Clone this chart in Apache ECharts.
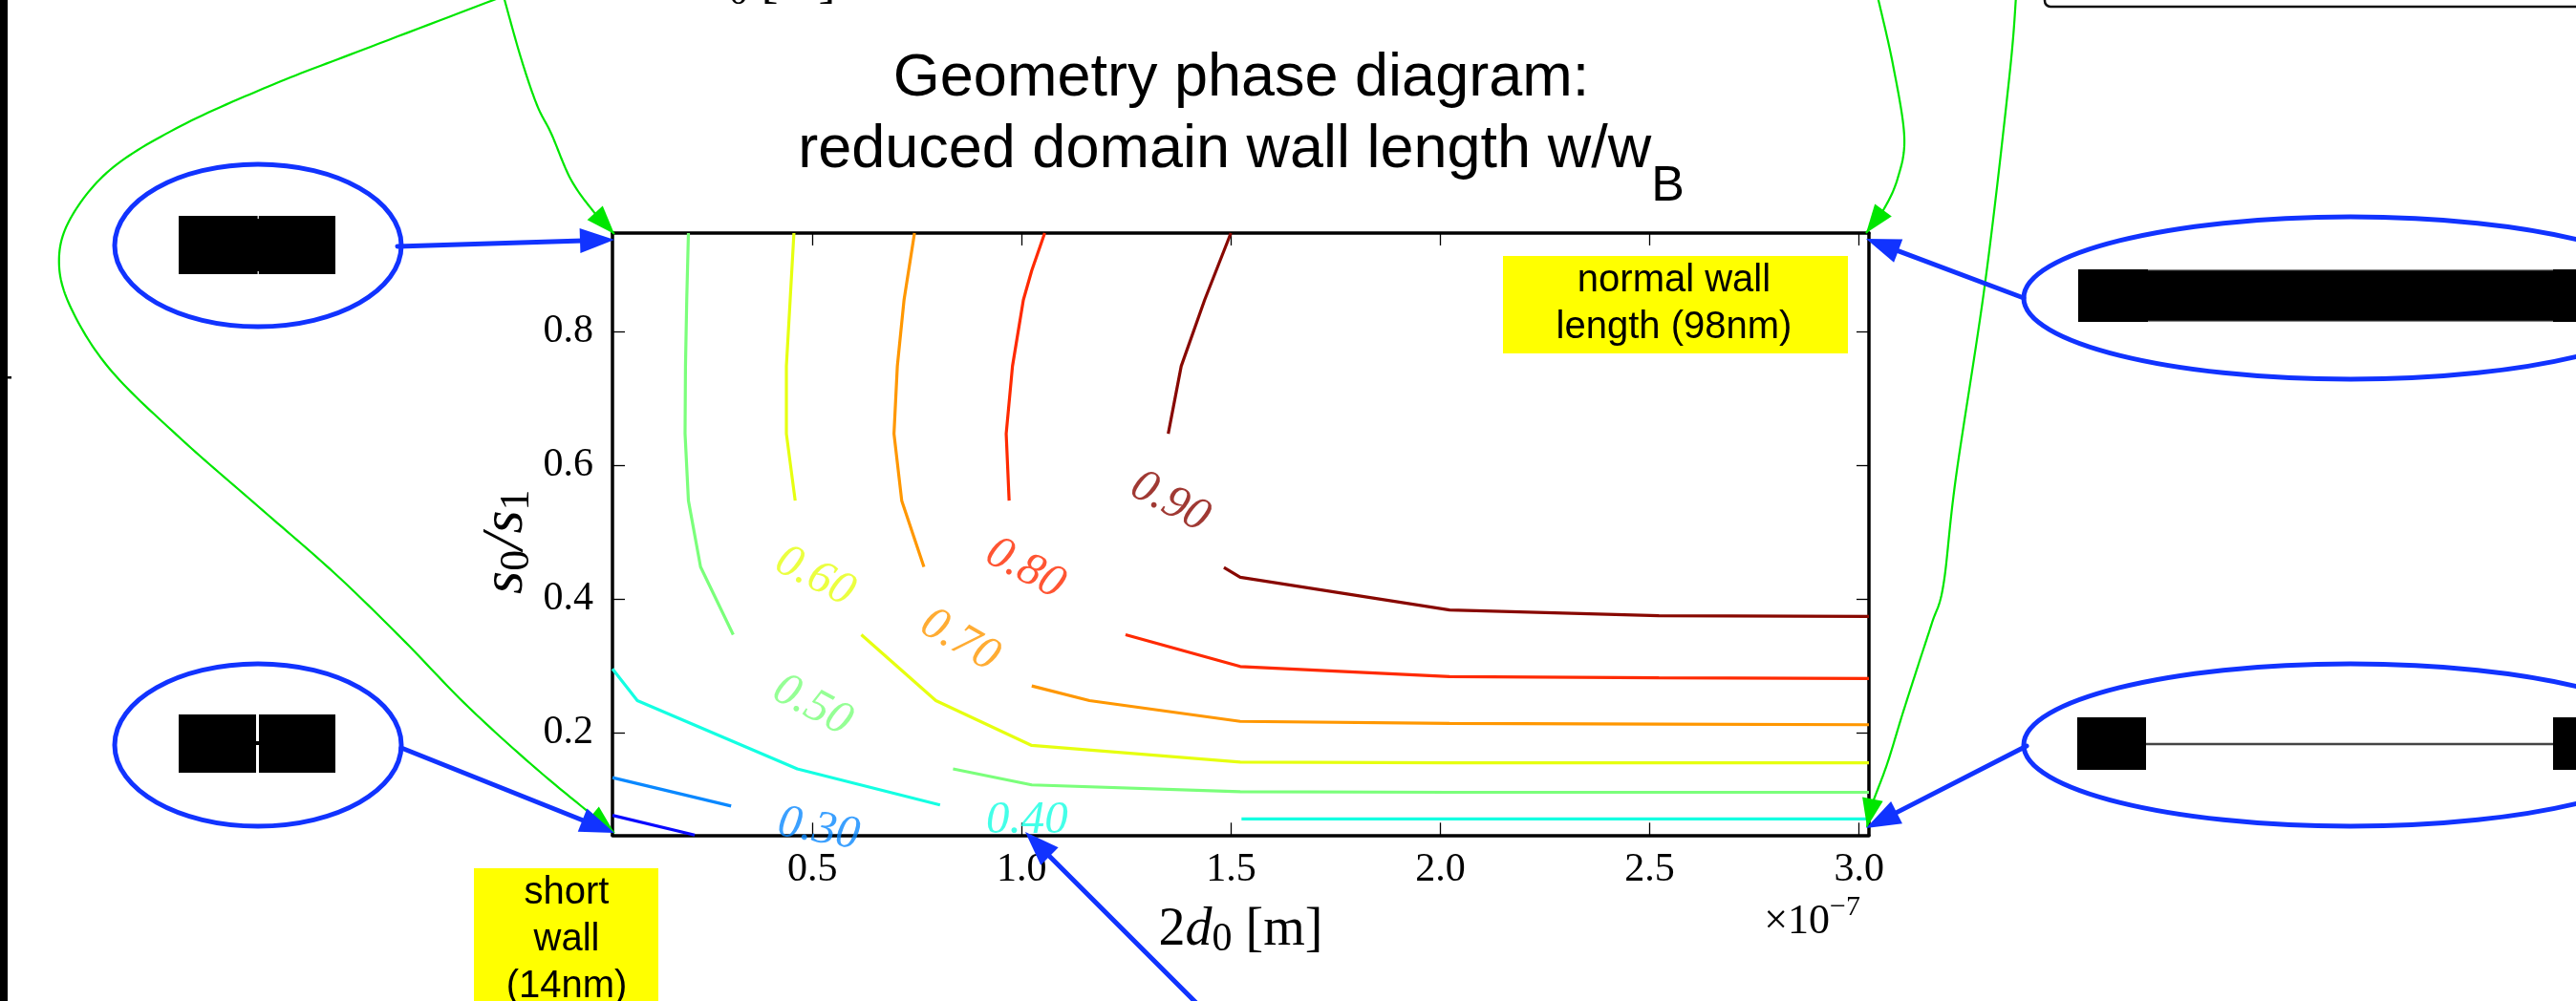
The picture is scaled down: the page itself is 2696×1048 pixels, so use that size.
<!DOCTYPE html>
<html><head><meta charset="utf-8">
<script src="https://cdn.jsdelivr.net/npm/echarts@6/dist/echarts.min.js"></script>
<style>html,body{margin:0;padding:0;background:#fff}#c{width:2696px;height:1048px}</style>
</head><body><div id="c"></div>
<script>
// ---------------- data ----------------
const xTicks = [0.5, 1.0, 1.5, 2.0, 2.5, 3.0];
const yTicks = [0.2, 0.4, 0.6, 0.8];
const xRange = [0.0226, 3.0236];
const yRange = [0.047, 0.947];

const contour020 = [[0.0226,0.0765],[0.219,0.047]];
const contour030 = [[0.0226,0.133],[0.306,0.0905]];
const contour040a = [[0.0226,0.2956],[0.082,0.248],[0.464,0.146],[0.805,0.092]];
const contour040b = [[1.525,0.0712],[2.022,0.0712],[2.522,0.0712],[3.0236,0.0712]];
const contour050a = [[0.204,0.947],[0.200,0.847],[0.197,0.748],[0.196,0.647],[0.204,0.547],[0.233,0.448],[0.311,0.3465]];
const contour050b = [[0.836,0.146],[1.024,0.122],[1.522,0.112],[2.022,0.111],[2.522,0.111],[3.0236,0.111]];
const contour060a = [[0.456,0.947],[0.447,0.847],[0.438,0.748],[0.438,0.647],[0.459,0.547]];
const contour060b = [[0.617,0.3465],[0.795,0.248],[1.024,0.181],[1.522,0.156],[2.022,0.155],[2.522,0.155],[3.0236,0.155]];
const contour070a = [[0.744,0.947],[0.719,0.847],[0.703,0.748],[0.695,0.647],[0.7135,0.547],[0.7665,0.448]];
const contour070b = [[1.024,0.270],[1.162,0.248],[1.522,0.217],[2.022,0.214],[2.522,0.213],[3.0236,0.212]];
const contour080a = [[1.055,0.947],[1.024,0.891],[1.004,0.847],[0.978,0.748],[0.963,0.647],[0.970,0.547]];
const contour080b = [[1.248,0.3465],[1.522,0.299],[2.022,0.284],[2.522,0.282],[3.0236,0.281]];
const contour090a = [[1.4997,0.947],[1.437,0.847],[1.381,0.748],[1.350,0.647]];
const contour090b = [[1.483,0.447],[1.522,0.4325],[2.022,0.3835],[2.522,0.375],[3.0236,0.374]];

const labelLevels = ['0.30','0.40','0.50','0.60','0.70','0.80','0.90'];
const labelX = [0.515, 1.013, 0.500, 0.506, 0.852, 1.008, 1.354];
const labelY = [0.0556, 0.0690, 0.2405, 0.4335, 0.338, 0.445, 0.545];

// ---------------- styles ----------------
const levelColors = {'0.20':'#0a0aff','0.30':'#0a88ff','0.40':'#14ffe2','0.50':'#7bff7b',
  '0.60':'#e6ff10','0.70':'#ff9700','0.80':'#ff2a00','0.90':'#880800'};
const labelRotate = {'0.30':-10,'0.40':0,'0.50':-28,'0.60':-27,'0.70':-30,'0.80':-28,'0.90':-28};

const segments = [
  ['0.20', contour020], ['0.30', contour030],
  ['0.40', contour040a], ['0.40', contour040b],
  ['0.50', contour050a], ['0.50', contour050b],
  ['0.60', contour060a], ['0.60', contour060b],
  ['0.70', contour070a], ['0.70', contour070b],
  ['0.80', contour080a], ['0.80', contour080b],
  ['0.90', contour090a], ['0.90', contour090b]
];

const SERIF = '"Liberation Serif", "DejaVu Serif", serif';
const SANS = '"Liberation Sans", Arial, sans-serif';
const BLUE = '#1133ff', GREEN = '#00e600';

const series = segments.map(([lvl, pts]) => ({
  type: 'line', name: lvl, data: pts, showSymbol: false, symbol: 'none',
  lineStyle: {color: levelColors[lvl], width: 3.2}, silent: true, z: 3
}));
series.push({
  type: 'scatter', symbol: 'circle', symbolSize: 1, itemStyle: {color: 'rgba(0,0,0,0)'},
  z: 6, silent: true, clip: false,
  data: labelLevels.map((l, i) => ({
    value: [labelX[i], labelY[i]],
    label: {show: true, position: 'inside', formatter: l, color: levelColors[l],
      rotate: labelRotate[l], fontFamily: SERIF, fontStyle: 'italic', fontSize: 49}
  }))
});

// ---------------- annotation helpers ----------------
function spline(pts, n) {
  const out = [];
  for (let i = 0; i < pts.length - 1; i++) {
    const p0 = pts[Math.max(i - 1, 0)], p1 = pts[i], p2 = pts[i + 1], p3 = pts[Math.min(i + 2, pts.length - 1)];
    for (let k = 0; k < n; k++) {
      const t = k / n, t2 = t * t, t3 = t2 * t;
      const f = (a, b, c, d) => 0.5 * ((2 * b) + (-a + c) * t + (2 * a - 5 * b + 4 * c - d) * t2 + (-a + 3 * b - 3 * c + d) * t3);
      out.push([f(p0[0], p1[0], p2[0], p3[0]), f(p0[1], p1[1], p2[1], p3[1])]);
    }
  }
  out.push(pts[pts.length - 1]);
  return out;
}
function head(tx, ty, fx, fy, len, hw, color) {
  const dx = tx - fx, dy = ty - fy, d = Math.hypot(dx, dy), ux = dx / d, uy = dy / d;
  const bx = tx - ux * len, by = ty - uy * len;
  return {type: 'polygon', z: 102, shape: {points: [[tx, ty], [bx - uy * hw, by + ux * hw], [bx + uy * hw, by - ux * hw]]},
    style: {fill: color}};
}
function arrow(x1, y1, x2, y2) {
  const d = Math.hypot(x2 - x1, y2 - y1), ux = (x2 - x1) / d, uy = (y2 - y1) / d;
  return [
    {type: 'line', z: 101, shape: {x1, y1, x2: x2 - ux * 25, y2: y2 - uy * 25},
      style: {stroke: BLUE, lineWidth: 5, lineCap: 'round'}},
    head(x2, y2, x1, y1, 36, 13, BLUE)
  ];
}
function curve(pts) {
  const n = pts.length, a = pts[n - 1], b = pts[n - 2];
  return [
    {type: 'polyline', z: 100, shape: {points: spline(pts, 16)}, style: {stroke: GREEN, lineWidth: 2.2, fill: null}},
    head(a[0], a[1], b[0], b[1], 30, 11, GREEN)
  ];
}
const blackRect = (x, y, w, h) => ({type: 'rect', z: 99, shape: {x, y, width: w, height: h}, style: {fill: '#000'}});
const ell = (cx, cy, rx, ry) => ({type: 'ellipse', z: 100, shape: {cx, cy, rx, ry}, style: {fill: null, stroke: BLUE, lineWidth: 5}});

const elements = [
  {type: 'rect', z: 99, shape: {x: 0, y: 0, width: 8, height: 1048}, style: {fill: '#000'}},
  {type: 'rect', z: 99, shape: {x: 0, y: 394, width: 12, height: 2.5}, style: {fill: '#000'}},
  {type: 'rect', z: 99, shape: {x: 2140, y: -40, width: 700, height: 47, r: 6}, style: {fill: null, stroke: '#111', lineWidth: 2.5}},
  blackRect(187, 226, 164, 61),
  {type: 'rect', z: 99, shape: {x: 269.5, y: 226, width: 1.5, height: 3}, style: {fill: '#ccc'}},
  {type: 'rect', z: 99, shape: {x: 269.5, y: 284, width: 1.5, height: 3}, style: {fill: '#ccc'}},
  blackRect(187, 748, 164, 61),
  {type: 'rect', z: 99, shape: {x: 268, y: 748, width: 3, height: 61}, style: {fill: '#fff'}},
  {type: 'rect', z: 99, shape: {x: 268, y: 776, width: 3, height: 4}, style: {fill: '#000'}},
  blackRect(2175, 282, 521, 55),
  {type: 'line', z: 99, shape: {x1: 2248, y1: 282.6, x2: 2672, y2: 282.6}, style: {stroke: '#888', lineWidth: 1.2}},
  {type: 'line', z: 99, shape: {x1: 2248, y1: 336.4, x2: 2672, y2: 336.4}, style: {stroke: '#888', lineWidth: 1.2}},
  blackRect(2174, 751, 72, 55),
  blackRect(2672, 751, 30, 55),
  {type: 'line', z: 99, shape: {x1: 2246, y1: 779, x2: 2672, y2: 779}, style: {stroke: '#444', lineWidth: 2.5}},
  ell(270, 257, 150, 85), ell(270, 780, 150, 85), ell(2460, 312, 342, 85), ell(2460, 780, 342, 85),
  ...curve([[527,-4],[380,52],[287,88],[189,132],[115,178],[72,232],[62,280],[78,330],[118,390],[190,460],[270,530],[350,600],[420,668],[490,740],[565,808],[643,872]]),
  ...curve([[527,-4],[545,60],[562,110],[577,140],[597,187],[620,220],[643,245]]),
  ...curve([[1965,-4],[1981,67],[1993,143],[1986,187],[1971,220],[1953,244]]),
  ...curve([[2110,-4],[2103,80],[2078,293],[2047,500],[2034,612],[2022,652],[2008,695],[1991,748],[1975,800],[1958,846],[1954,866]]),
  ...arrow(416, 258, 643, 251),
  ...arrow(420, 783, 643, 872),
  ...arrow(2118, 312, 1953, 250),
  ...arrow(2121, 781, 1953, 867),
  ...arrow(1270, 1068, 1073, 871),
  {type: 'rect', z: 98, shape: {x: 1573, y: 268, width: 361, height: 102}, style: {fill: '#ffff00'}},
  {type: 'text', z: 103, style: {text: 'normal wall\nlength (98nm)', x: 1752, y: 318, align: 'center', verticalAlign: 'middle',
    fontFamily: SANS, fontSize: 40, lineHeight: 49, fill: '#000'}},
  {type: 'rect', z: 98, shape: {x: 496, y: 909, width: 193, height: 160}, style: {fill: '#ffff00'}},
  {type: 'text', z: 103, style: {text: 'short\nwall\n(14nm)', x: 593, y: 984, align: 'center', verticalAlign: 'middle',
    fontFamily: SANS, fontSize: 40, lineHeight: 49, fill: '#000'}},
  {type: 'text', z: 103, style: {text: 'Geometry phase diagram:', x: 1299, y: 83, align: 'center', verticalAlign: 'middle',
    fontFamily: SANS, fontSize: 63, fill: '#000'}},
  {type: 'text', z: 103, style: {text: '{m|reduced domain wall length w/w}{b|B}', x: 1299, y: 158, align: 'center', verticalAlign: 'middle',
    fill: '#000', rich: {m: {fontFamily: SANS, fontSize: 63, lineHeight: 128}, b: {fontFamily: SANS, fontSize: 52, lineHeight: 26, verticalAlign: 'bottom'}}}},
  {type: 'text', z: 103, style: {text: '{a|×10}{b|−7}', x: 1947, y: 965, align: 'right', verticalAlign: 'middle',
    fill: '#000', rich: {a: {fontFamily: SERIF, fontSize: 44, lineHeight: 60}, b: {fontFamily: SERIF, fontSize: 30, lineHeight: 40, verticalAlign: 'top'}}}},
  {type: 'text', z: 103, style: {text: '{n|2}{i|d}{s|0}{n| [m]}', x: 709, y: -17, align: 'left', verticalAlign: 'middle',
    fill: '#000', rich: {n: {fontFamily: SERIF, fontSize: 54, lineHeight: 60}, i: {fontFamily: SERIF, fontStyle: 'italic', fontSize: 54, lineHeight: 60},
      s: {fontFamily: SERIF, fontSize: 40, lineHeight: 40, verticalAlign: 'bottom'}}}}
];

// ---------------- axes ----------------
const axisLine = {show: true, onZero: false, lineStyle: {color: '#000', width: 3.5}};
const tickX = {show: true, inside: true, length: 13, customValues: xTicks, lineStyle: {color: '#000', width: 1.3}};
const tickY = {show: true, inside: true, length: 13, customValues: yTicks, lineStyle: {color: '#000', width: 1.3}};
const xNameRich = {
  n: {fontFamily: SERIF, fontSize: 56, lineHeight: 62, color: '#000'},
  i: {fontFamily: SERIF, fontStyle: 'italic', fontSize: 56, lineHeight: 62, color: '#000'},
  s: {fontFamily: SERIF, fontSize: 42, lineHeight: 42, verticalAlign: 'bottom', color: '#000'}
};
const yNameRich = {
  i: {fontFamily: SERIF, fontStyle: 'italic', fontSize: 62, lineHeight: 66, color: '#000'},
  s: {fontFamily: SERIF, fontSize: 44, lineHeight: 42, verticalAlign: 'bottom', color: '#000'}
};

const option = {
  animation: false,
  backgroundColor: '#fff',
  grid: {left: 641, top: 244, width: 1315, height: 630.3, containLabel: false, outerBoundsMode: 'none'},
  xAxis: [
    {type: 'value', position: 'bottom', min: xRange[0], max: xRange[1], axisLine, axisTick: tickX,
      splitLine: {show: false},
      axisLabel: {customValues: xTicks, formatter: v => v.toFixed(1), color: '#000', fontFamily: SERIF, fontSize: 42, margin: 16},
      name: '{n|2}{i|d}{s|0}{n| [m]}', nameLocation: 'middle', nameGap: 69,
      nameTextStyle: {rich: xNameRich}},
    {type: 'value', position: 'top', min: xRange[0], max: xRange[1], axisLine, axisTick: tickX,
      splitLine: {show: false}, axisLabel: {show: false}}
  ],
  yAxis: [
    {type: 'value', position: 'left', min: yRange[0], max: yRange[1], axisLine, axisTick: tickY,
      splitLine: {show: false},
      axisLabel: {customValues: yTicks, formatter: v => v.toFixed(1), color: '#000', fontFamily: SERIF, fontSize: 42, margin: 20},
      name: '{i|s}{s|0}{i|/s}{s|1}', nameLocation: 'middle', nameGap: 78,
      nameTextStyle: {rich: yNameRich, padding: [0, 16, 0, 0]}},
    {type: 'value', position: 'right', min: yRange[0], max: yRange[1], axisLine, axisTick: tickY,
      splitLine: {show: false}, axisLabel: {show: false}}
  ],
  series,
  graphic: {elements}
};

const chart = echarts.init(document.getElementById('c'), null, {renderer: 'canvas'});
chart.setOption(option);
</script>
</body></html>
